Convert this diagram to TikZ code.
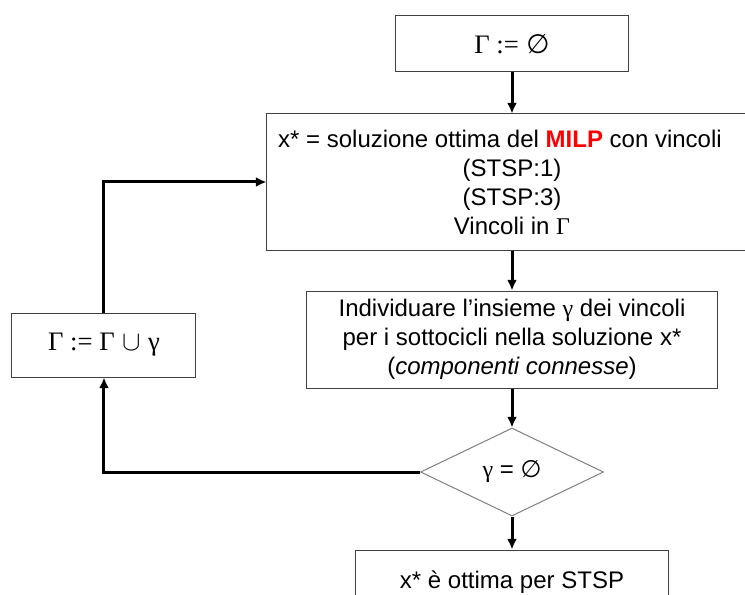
\documentclass[tikz,border=0pt]{standalone}
\usepackage{xcolor}
\usepackage{fontspec}
\setmainfont{Liberation Sans}
\newfontfamily\greekfont{Liberation Serif}
\newfontfamily\symfont{DejaVu Sans}
\usetikzlibrary{shapes.geometric, arrows.meta, positioning}

\begin{document}
\begin{tikzpicture}[
	box/.style={draw=black!75, line width=0.75pt, align=center,
		font=\fontsize{18}{21.75}\selectfont},
	flow/.style={line width=2.25pt, -{Latex[length=8pt,width=7.5pt]}}]
	\useasboundingbox (-384pt,33pt) rectangle (174.75pt,-413.25pt);
	% Start block
	\node[box,
	minimum width=174pt,
	minimum height=42pt,
	font=\fontsize{20}{24}\selectfont] (init) {{\greekfont Γ :=} {\symfont ∅}};
	% MILP block
	\node[box,
	below=30.75pt of init,
	minimum width=367.5pt,
	minimum height=102pt] (milp) {x* = soluzione ottima del \textbf{\color{red}MILP} con vincoli\hspace*{18pt}\\
		(STSP:1)\\
		(STSP:3)\\
		Vincoli in {\greekfont Γ}};
	% Subtour block
	\node[box,
	below=30pt of milp,
	minimum width=307.5pt,
	minimum height=72.75pt] (subtour) {Individuare l’insieme {\greekfont γ} dei vincoli\\
		per i sottocicli nella soluzione x*\\
		(\textit{componenti connesse})};
	% Test block
	\node[draw=black!50,
	line width=0.75pt,
	diamond,
	inner sep=0pt,
	font=\fontsize{18}{21.75}\selectfont,
	below=29.25pt of subtour,
	minimum width=137.25pt,
	minimum height=66pt] (test) {{\greekfont γ} = {\symfont ∅}};
	% End block
	\node[box,
	below=24.75pt of test,
	minimum width=234.75pt,
	minimum height=48pt] (opt) {x* è ottima per STSP};
	% Update block
	\node[box,
	minimum width=138pt,
	minimum height=48pt,
	font=\fontsize{20}{24}\selectfont] (update) at (-306pt,-225.75pt) {{\greekfont Γ := Γ} $\cup$ {\greekfont γ}};
	% Arrows
	\draw[flow] (init) -- (milp);
	\draw[flow] (milp) -- (subtour);
	\draw[flow] (subtour) -- (test);
	\draw[flow] (test) -- (opt);
	\draw[flow] (test.west) -| (update.south);
	\draw[flow] (update.north) |- (milp.west);
\end{tikzpicture}
\end{document}
